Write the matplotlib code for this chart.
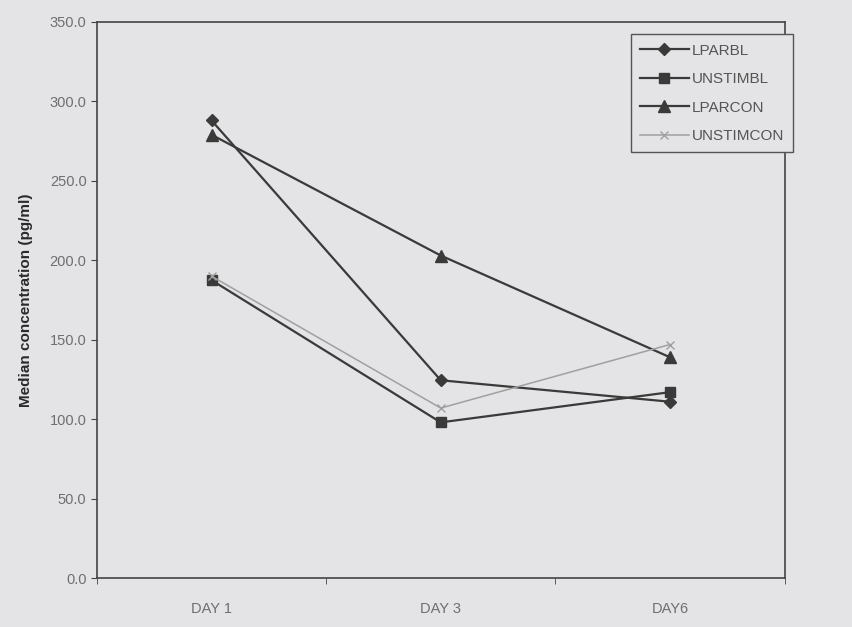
import matplotlib.pyplot as plt
import numpy as np

plt.rcParams['font.family'] = ['Liberation Sans', 'DejaVu Sans']

days = ["DAY 1", "DAY 3", "DAY6"]
lparbl = [288.0, 124.5, 111.0]
unstimbl = [187.5, 98.0, 117.0]
lparcon = [279.0, 203.0, 139.0]
unstimcon = [190.0, 107.0, 147.0]

bg = "#e4e3e5"
fig = plt.figure(figsize=(8.53, 6.27), dpi=100, facecolor=bg)
ax = fig.add_axes([0.1137, 0.078, 0.806, 0.887], facecolor=bg)

x = np.arange(len(days))
ax.plot(x, lparbl, color="#3a3a3a", lw=1.6, marker="D", ms=6, label="LPARBL")
ax.plot(x, unstimbl, color="#3a3a3a", lw=1.6, marker="s", ms=7, label="UNSTIMBL")
ax.plot(x, lparcon, color="#3a3a3a", lw=1.6, marker="^", ms=8, label="LPARCON")
ax.plot(x, unstimcon, color="#a0a0a0", lw=1.1, marker="x", ms=6, label="UNSTIMCON")

ax.set_xlim(-0.5, 2.5)
ax.set_ylim(0, 350)
ax.set_xticks(x)
ax.set_xticklabels(days)
ax.set_xticks([-0.5, 0.5, 1.5, 2.5], minor=True)
ax.tick_params(axis="x", which="major", length=0, pad=17, labelsize=10.5, labelcolor="#6f6f6f")
ax.tick_params(axis="x", which="minor", length=4, color="#444444")
ax.set_yticks(np.arange(0, 351, 50))
ax.set_yticklabels([f"{v:.1f}" for v in np.arange(0, 351, 50)])
ax.tick_params(axis="y", length=4, color="#444444", labelsize=10.5, labelcolor="#6f6f6f")
for s in ax.spines.values():
    s.set_color("#444444")
    s.set_linewidth(1.2)

ax.set_ylabel("Median concentration (pg/ml)", fontsize=11, fontweight="bold",
              color="#2a2a2a", labelpad=12)

leg = ax.legend(loc="upper right", bbox_to_anchor=(0.93, 0.945),
                bbox_transform=fig.transFigure, fancybox=False, framealpha=1,
                facecolor=bg, edgecolor="#555555", fontsize=11, handlelength=3.2,
                borderaxespad=0, labelspacing=0.95, handletextpad=0.2,
                borderpad=0.6)
for t in leg.get_texts():
    t.set_color("#555555")

fig.savefig("out.png", dpi=100, facecolor=bg)
